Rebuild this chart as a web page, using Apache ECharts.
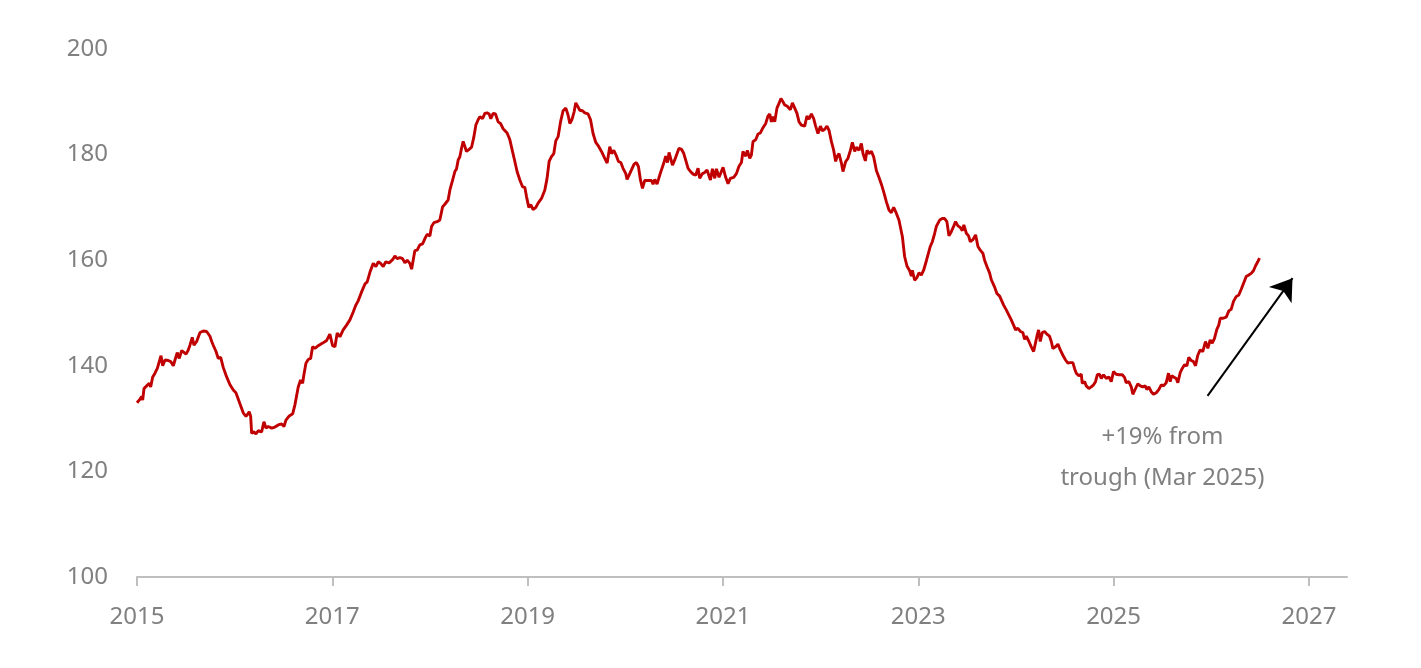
<!DOCTYPE html>
<html>
<head>
<meta charset="utf-8">
<title>Index since 2015</title>
<script src="https://cdn.jsdelivr.net/npm/echarts@6/dist/echarts.min.js"></script>
<style>
html,body{margin:0;padding:0;background:#fff;}
#chart{width:1421px;height:668px;}
</style>
</head>
<body>
<div id="chart"></div>
<script>
// dates as decimal years
var years = [
2015.000,2015.031,2015.048,2015.058,2015.072,2015.099,2015.126,2015.140,2015.161,2015.184,
2015.208,2015.228,2015.246,2015.263,2015.287,2015.320,2015.345,2015.372,2015.389,2015.412,
2015.433,2015.458,2015.474,2015.502,2015.525,2015.542,2015.566,2015.583,2015.611,2015.645,
2015.679,2015.713,2015.747,2015.765,2015.781,2015.809,2015.832,2015.857,2015.883,2015.918,
2015.952,2015.986,2016.013,2016.027,2016.054,2016.088,2016.116,2016.129,2016.149,2016.164,
2016.174,2016.197,2016.218,2016.241,2016.276,2016.300,2016.320,2016.344,2016.379,2016.412,
2016.446,2016.481,2016.505,2016.525,2016.559,2016.594,2016.617,2016.635,2016.651,2016.675,
2016.696,2016.709,2016.730,2016.753,2016.778,2016.798,2016.822,2016.856,2016.901,2016.942,
2016.975,
2017.003,2017.027,2017.050,2017.078,2017.111,2017.146,2017.180,2017.214,2017.241,2017.265,
2017.300,2017.334,2017.357,2017.385,2017.419,2017.446,2017.470,2017.494,2017.521,2017.548,
2017.582,2017.617,2017.641,2017.664,2017.692,2017.719,2017.743,2017.767,2017.794,2017.812,
2017.828,2017.845,2017.869,2017.896,2017.924,2017.948,2017.971,2017.999,2018.016,2018.040,
2018.074,2018.101,2018.129,2018.152,2018.170,2018.186,2018.204,2018.231,2018.255,2018.272,
2018.289,2018.306,2018.323,2018.340,2018.357,2018.374,2018.401,2018.426,2018.449,2018.470,
2018.493,2018.511,2018.538,2018.562,2018.585,2018.606,2018.623,2018.647,2018.671,2018.698,
2018.722,2018.749,2018.790,2018.818,2018.845,2018.869,2018.892,2018.920,2018.948,2018.971,
2018.989,2019.012,2019.033,2019.056,2019.084,2019.107,
2019.142,2019.176,2019.199,2019.220,2019.244,2019.268,2019.288,2019.312,2019.337,2019.363,
2019.391,2019.414,2019.432,2019.455,2019.476,2019.493,2019.517,2019.534,2019.562,2019.585,
2019.619,2019.644,2019.670,2019.698,2019.729,2019.756,2019.790,2019.814,2019.841,2019.859,
2019.882,2019.910,2019.930,2019.954,2019.977,2020.005,2020.018,2020.039,2020.063,2020.090,
2020.114,2020.135,2020.155,2020.176,2020.199,2020.233,2020.268,2020.284,2020.302,2020.325,
2020.346,2020.370,2020.394,2020.414,2020.432,2020.448,2020.462,2020.483,2020.506,2020.530,
2020.550,2020.575,2020.599,2020.619,2020.643,2020.667,2020.694,2020.721,2020.745,2020.762,
2020.790,2020.813,2020.837,2020.857,2020.872,2020.892,2020.916,2020.933,2020.960,
2021.001,2021.028,2021.052,2021.076,2021.110,2021.138,2021.164,2021.189,2021.205,2021.233,
2021.250,2021.274,2021.291,2021.308,2021.335,2021.359,2021.383,2021.410,2021.438,2021.461,
2021.479,2021.496,2021.513,2021.530,2021.553,2021.574,2021.594,2021.615,2021.632,2021.656,
2021.676,2021.691,2021.711,2021.735,2021.758,2021.779,2021.803,2021.837,2021.860,2021.881,
2021.905,2021.929,2021.949,2021.973,2021.998,2022.018,2022.042,2022.065,2022.086,2022.110,
2022.134,2022.154,2022.168,2022.188,2022.213,2022.229,2022.257,2022.280,2022.305,2022.325,
2022.349,2022.366,2022.393,2022.417,2022.434,2022.458,2022.475,2022.495,2022.520,2022.543,
2022.571,2022.597,2022.622,2022.645,2022.673,2022.700,2022.724,2022.748,2022.775,2022.802,
2022.837,2022.860,2022.884,2022.912,2022.929,2022.939,2022.963,2022.986,2023.007,2023.031,
2023.055,2023.083,2023.099,2023.123,2023.144,2023.168,2023.185,2023.201,2023.219,2023.246,
2023.270,2023.293,2023.314,2023.338,2023.362,2023.382,2023.406,2023.430,2023.451,2023.467,
2023.492,2023.515,2023.533,2023.560,2023.587,2023.611,2023.635,2023.662,2023.679,2023.703,
2023.730,2023.748,2023.764,2023.782,2023.805,2023.833,2023.853,2023.874,2023.901,2023.928,
2023.952,2023.976,2023.996,2024.020,2024.045,2024.071,2024.089,2024.106,2024.133,2024.157,
2024.181,2024.201,2024.215,2024.232,2024.249,2024.270,2024.293,2024.317,2024.344,2024.362,
2024.378,2024.406,2024.430,2024.454,2024.481,2024.508,2024.532,2024.556,2024.583,2024.600,
2024.618,2024.644,2024.669,2024.679,2024.703,2024.720,2024.747,2024.771,2024.795,2024.815,
2024.833,2024.856,2024.874,2024.897,2024.925,2024.951,2024.976,2024.999,2025.027,2025.054,
2025.089,2025.112,2025.129,2025.156,2025.181,2025.197,2025.225,2025.248,2025.273,2025.300,
2025.324,2025.340,2025.361,2025.385,2025.409,2025.437,2025.463,2025.488,2025.511,2025.539,
2025.562,2025.580,2025.593,2025.614,2025.641,2025.658,2025.682,2025.703,2025.726,2025.750,
2025.770,2025.795,2025.818,2025.839,2025.862,2025.887,2025.913,2025.941,2025.965,2025.989,
2026.010,2026.033,2026.057,2026.077,2026.092,2026.118,2026.153,2026.180,2026.204,2026.228,
2026.255,2026.282,2026.307,2026.330,2026.358,2026.384,2026.409,2026.432,2026.453,2026.476,
2026.494
];

var values = [
133.0,133.7,134.2,133.5,135.7,136.2,136.7,136.0,137.9,138.6,
139.5,139.3,141.9,140.0,141.1,141.0,140.8,140.0,141.1,142.5,
141.4,142.9,142.7,142.2,143.0,143.9,145.4,143.9,144.6,146.3,
146.6,146.5,145.6,144.6,143.9,142.7,141.4,141.6,139.7,137.9,
136.4,135.4,134.9,134.2,132.8,131.1,130.4,130.4,131.3,130.4,
127.2,127.5,127.1,127.7,127.5,129.4,128.2,128.5,128.2,128.4,
128.8,129.0,128.5,129.7,130.5,130.9,132.6,132.9,136.0,137.3,
136.7,138.3,140.5,141.2,141.4,143.6,143.3,143.8,144.3,144.8,
146.0,
143.8,143.6,146.2,145.5,146.8,147.7,148.7,150.2,151.5,152.3,
154.0,155.5,155.9,157.7,159.4,158.8,159.7,159.4,158.8,159.7,
159.5,160.1,160.8,160.3,160.5,160.3,159.5,160.0,159.4,158.3,
160.0,161.8,161.9,162.9,163.1,164.1,164.9,164.6,166.4,167.1,
167.3,167.6,170.1,170.6,170.3,171.4,173.3,175.1,176.8,177.3,
179.0,179.6,181.2,182.5,182.8,180.6,181.0,181.4,183.3,185.6,
186.6,187.2,186.8,187.8,187.9,187.7,186.8,187.8,187.7,186.2,
185.9,184.9,184.1,182.8,180.6,178.7,176.8,175.2,173.9,173.8,
172.0,170.0,170.5,169.6,170.0,170.8,
171.7,173.3,175.5,178.7,179.6,180.2,182.6,183.4,186.2,188.3,
188.8,187.5,185.9,186.7,188.1,189.8,189.0,188.4,188.3,187.9,
187.7,186.6,184.0,182.3,181.5,180.6,179.3,178.4,181.5,180.2,
180.8,179.7,178.7,178.5,177.4,176.4,175.3,176.1,177.1,178.2,
178.5,177.7,175.2,173.6,175.1,175.1,175.1,174.4,175.3,174.4,
175.7,177.1,178.4,179.7,178.5,180.4,180.7,178.0,179.0,180.2,
181.2,181.0,180.2,180.2,177.4,176.8,176.3,176.1,177.4,175.5,
176.4,176.6,177.1,177.0,175.2,177.3,175.5,177.3,175.7,
177.6,175.7,174.5,175.5,175.7,176.4,177.8,178.5,180.6,179.7,
180.8,179.3,179.9,182.5,182.8,183.9,184.1,185.1,185.9,187.3,
187.7,186.2,187.2,186.2,188.8,189.7,190.6,190.0,189.4,189.2,
189.4,188.5,189.8,188.8,187.8,186.2,185.6,185.4,187.3,186.7,
187.7,186.8,185.4,184.0,185.4,184.5,184.8,185.4,184.6,182.5,
180.8,178.7,179.6,180.2,178.4,176.8,178.7,179.3,180.8,182.3,
180.6,181.4,180.8,182.1,180.2,178.8,180.8,180.2,180.6,179.6,
177.0,175.7,174.4,173.0,171.1,169.5,169.0,170.0,168.9,167.6,
164.5,160.7,158.9,158.0,157.0,158.1,156.2,156.7,157.6,157.2,
158.1,159.9,159.7,162.6,163.5,165.1,166.4,166.5,167.6,167.9,
167.9,167.3,164.6,165.4,166.4,167.3,166.5,166.2,165.6,166.7,
165.1,164.6,163.5,163.9,164.8,162.6,161.9,161.3,160.0,158.8,
157.6,156.3,156.5,154.9,153.7,153.2,153.4,151.5,150.6,149.6,
148.7,147.7,146.8,147.1,146.5,146.3,145.0,145.6,144.6,143.6,
142.7,144.4,145.6,146.8,144.6,146.3,146.5,146.0,145.6,144.6,
143.3,143.6,144.1,143.0,142.0,141.1,140.5,140.6,140.6,139.5,
138.6,138.1,138.4,136.7,137.0,136.2,135.7,136.0,136.4,137.0,
138.3,138.4,137.6,138.3,137.6,137.9,137.0,138.9,138.4,138.3,
138.3,137.8,136.8,137.0,136.0,134.6,135.7,136.6,136.2,136.0,
136.2,135.5,136.0,135.1,134.6,134.9,135.5,136.4,136.2,136.8,
138.6,137.0,138.1,137.9,137.6,136.8,138.7,139.5,140.2,140.0,
141.6,141.0,140.8,140.0,142.0,143.0,142.7,144.6,143.3,144.9,
144.3,145.2,146.9,147.7,149.0,149.0,149.2,150.4,150.7,152.2,
153.1,153.4,154.5,155.6,156.9,157.2,157.5,158.0,158.9,159.7,
160.4
];

var tickYears = [2015, 2017, 2019, 2021, 2023, 2025, 2027];
var yTicks = [100, 120, 140, 160, 180, 200];

// annotation: arrow ends and text anchor, in data units
var arrowFrom = [2025.962, 134.3];
var arrowTo = [2026.832, 156.6];
var noteAt = [2025.50, 122.6];
var noteText = '+19% from\ntrough (Mar 2025)';

var seriesData = [];
for (var i = 0; i < years.length; i++) {
	seriesData.push([years[i], values[i]]);
}

var labelColor = '#808080';
var labelFont = '"Noto Sans", sans-serif';

var myChart = echarts.init(document.getElementById('chart'));
var option = {
	animation: false,
	backgroundColor: '#ffffff',
	grid: {left: 137, right: 74, top: 49, bottom: 91, containLabel: false},
	xAxis: {
		type: 'value',
		min: 2015,
		max: 2027.39,
		interval: 2,
		splitLine: {show: false},
		axisLine: {show: true, lineStyle: {color: '#bfbfbf', width: 2}},
		axisTick: {show: true, length: 9, customValues: tickYears, lineStyle: {color: '#bfbfbf', width: 2}},
		axisLabel: {
			customValues: tickYears,
			margin: 28,
			color: labelColor,
			fontSize: 24,
			fontFamily: labelFont,
			formatter: function (v) { return String(Math.round(v)); }
		}
	},
	yAxis: {
		type: 'value',
		min: yTicks[0],
		max: yTicks[yTicks.length - 1],
		interval: 20,
		splitLine: {show: false},
		axisLine: {show: false},
		axisTick: {show: false},
		axisLabel: {margin: 29, color: labelColor, fontSize: 24, fontFamily: labelFont}
	},
	series: [{
		type: 'line',
		data: seriesData,
		showSymbol: false,
		symbol: 'none',
		lineStyle: {color: '#c00000', width: 2.9},
		markLine: {
			silent: true,
			symbol: ['none', 'arrow'],
			symbolSize: 21,
			label: {show: false},
			lineStyle: {color: '#000000', width: 2, type: 'solid'},
			data: [[{coord: arrowFrom}, {coord: arrowTo}]]
		},
		markPoint: {
			silent: true,
			symbol: 'circle',
			symbolSize: 1,
			itemStyle: {color: 'rgba(0,0,0,0)'},
			label: {
				show: true,
				position: 'inside',
				formatter: noteText,
				color: labelColor,
				fontSize: 24,
				lineHeight: 41,
				fontFamily: labelFont,
				align: 'center'
			},
			data: [{coord: noteAt}]
		}
	}]
};
myChart.setOption(option);
</script>
</body>
</html>
